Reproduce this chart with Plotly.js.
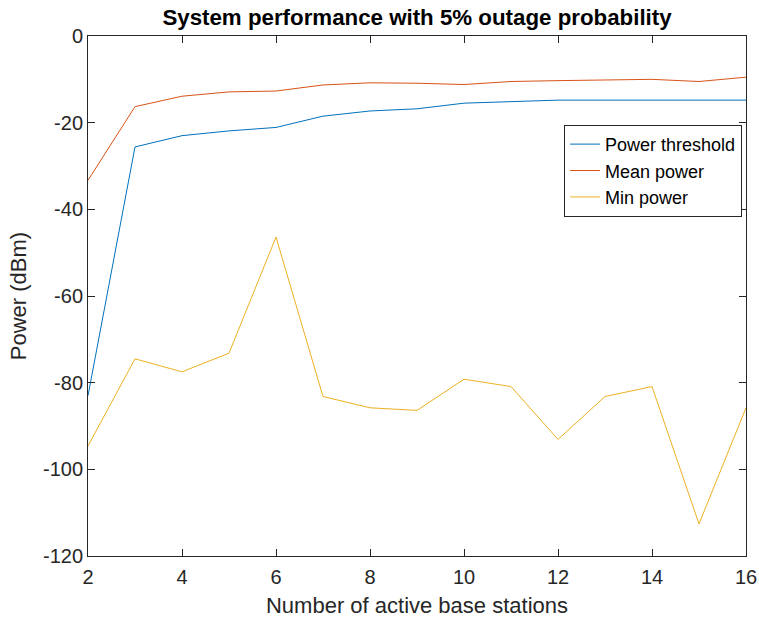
<!DOCTYPE html>
<html>
<head>
<meta charset="utf-8">
<script src="https://cdn.plot.ly/plotly-3.0.1.min.js"></script>
<style>html,body{margin:0;padding:0;background:#fff;}</style>
</head>
<body>
<div id="chart" style="width:759px;height:621px;"></div>
<script>
const stations = [2, 3, 4, 5, 6, 7, 8, 9, 10, 11, 12, 13, 14, 15, 16];
const powerThreshold = [-83.0, -25.6, -23.0, -21.9, -21.1, -18.5, -17.3, -16.8, -15.5, -15.1, -14.8, -14.8, -14.8, -14.8, -14.8];
const meanPower = [-33.3, -16.3, -13.9, -12.9, -12.7, -11.3, -10.8, -10.9, -11.2, -10.5, -10.3, -10.1, -10.0, -10.5, -9.5];
const minPower = [-94.6, -74.5, -77.5, -73.2, -46.4, -83.2, -85.8, -86.4, -79.2, -80.9, -93.1, -83.2, -80.9, -112.6, -85.8];
const seriesNames = ["Power threshold", "Mean power", "Min power"];
const xTicks = [2, 4, 6, 8, 10, 12, 14, 16];
const yTicks = [0, -20, -40, -60, -80, -100, -120];

const colors = ["#0072BD", "#D95319", "#EDB120"];
const data = [powerThreshold, meanPower, minPower].map((ys, i) => ({
  x: stations, y: ys, type: "scatter", mode: "lines", name: seriesNames[i],
  line: {color: colors[i], width: 1}
}));

const FONT = "Liberation Sans, Arial, Helvetica, sans-serif";
const axisCommon = {
  showgrid: false, zeroline: false, showline: true, mirror: "allticks",
  ticks: "inside", ticklen: 7, tickcolor: "#262626", linecolor: "#262626", linewidth: 1,
  tickfont: {family: FONT, size: 20, color: "#262626"}
};

const layout = {
  width: 759, height: 621,
  margin: {l: 88, r: 13, t: 36, b: 65},
  paper_bgcolor: "#fff", plot_bgcolor: "#fff",
  font: {family: FONT, color: "#262626"},
  title: {text: "<b>System performance with 5% outage probability</b>", x: 0.5, xref: "paper", xanchor: "center", y: 0.9726, yanchor: "middle",
          font: {size: 22.3, color: "#000"}},
  xaxis: Object.assign({}, axisCommon, {range: [2, 16], tickvals: xTicks, ticktext: xTicks.map(String),
    ticklabelstandoff: 3,
    title: {text: "Number of active base stations", font: {size: 22, color: "#262626"}, standoff: 10}}),
  yaxis: Object.assign({}, axisCommon, {range: [-120, 0], tickvals: yTicks, ticktext: yTicks.map(String),
    title: {text: "Power (dBm)", font: {size: 22, color: "#262626"}, standoff: 10}}),
  legend: {x: 0.994, y: 0.829, xanchor: "right", yanchor: "top", bgcolor: "#fff",
    bordercolor: "#262626", borderwidth: 1, font: {family: FONT, size: 18, color: "#000"},
    tracegroupgap: 0},
  showlegend: true
};

Plotly.newPlot("chart", data, layout, {displayModeBar: false, staticPlot: true});
</script>
</body>
</html>
